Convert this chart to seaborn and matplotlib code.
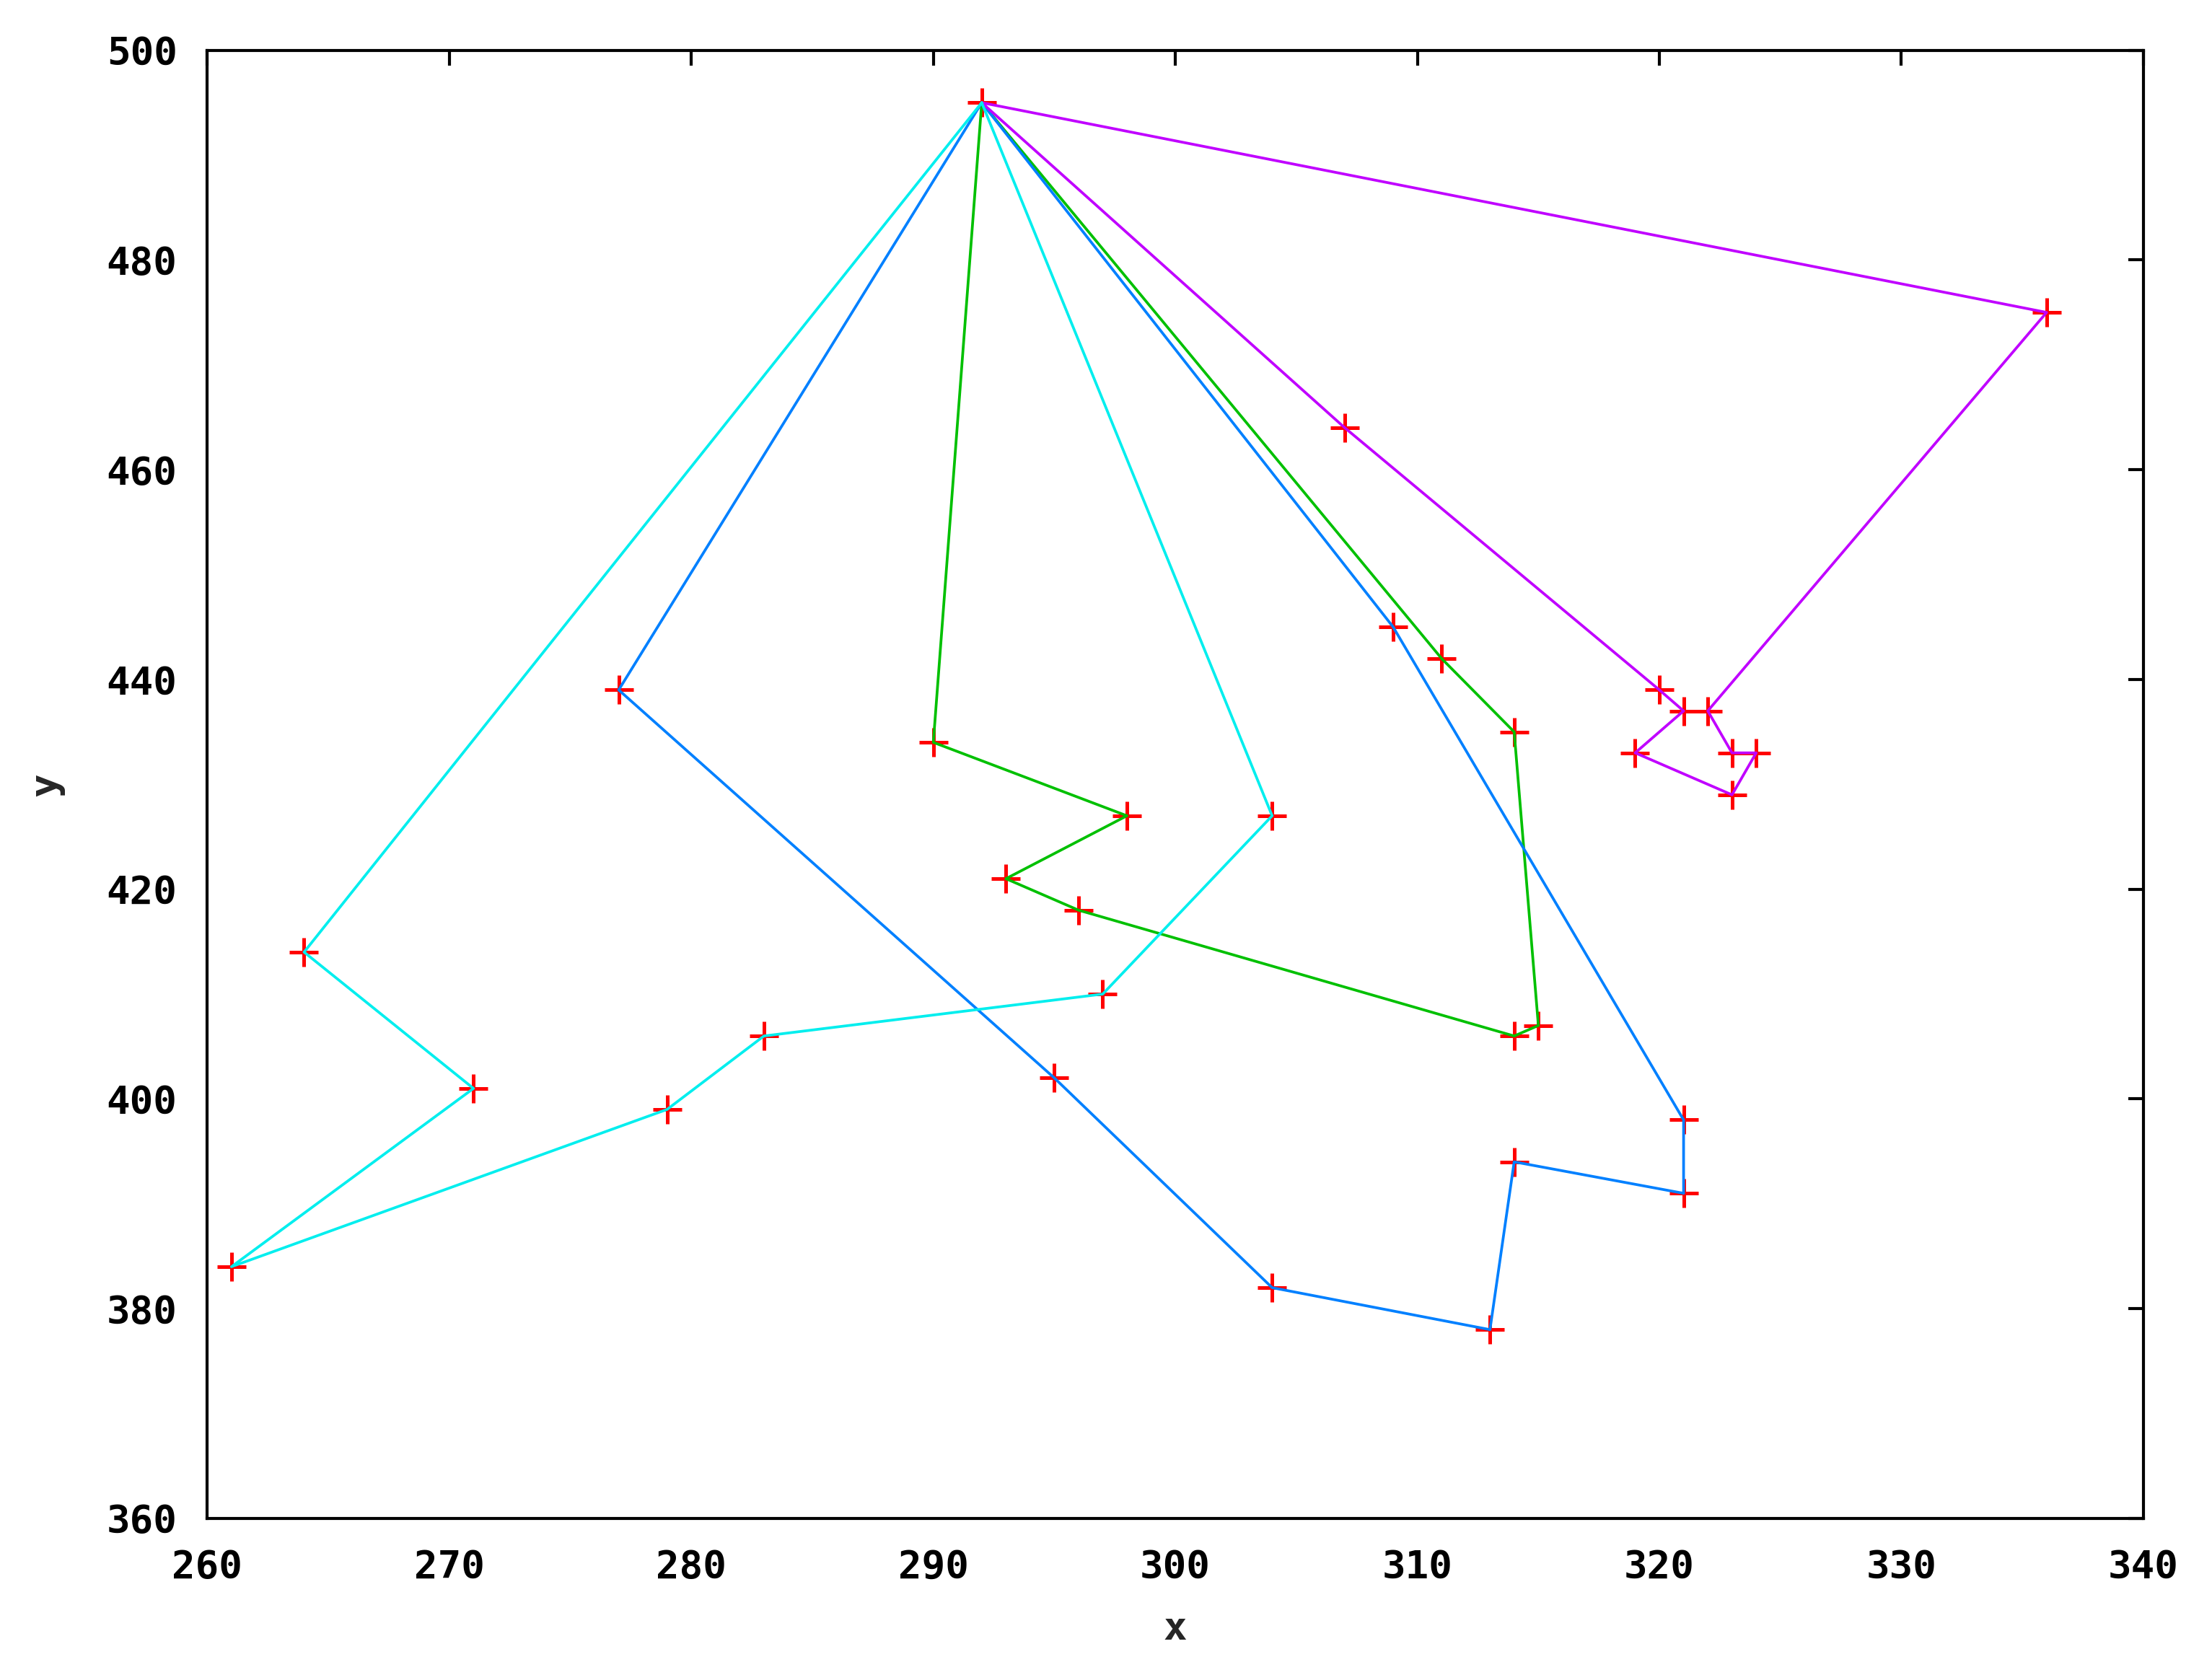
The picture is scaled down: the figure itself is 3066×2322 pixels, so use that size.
import numpy as np
import pandas as pd
import seaborn as sns
import matplotlib.pyplot as plt

# depot shared by all routes
depot = (292, 495)

# routes (customer visits in order, depot at both ends)
route_green_x = [292, 290, 298, 293, 296, 314, 315, 314, 311, 292]
route_green_y = [495, 434, 427, 421, 418, 406, 407, 435, 442, 495]

route_blue_x = [292, 277, 295, 304, 313, 314, 321, 321, 309, 292]
route_blue_y = [495, 439, 402, 382, 378, 394, 391, 398, 445, 495]

route_magenta_x = [292, 307, 320, 321, 319, 323, 324, 323, 322, 336, 292]
route_magenta_y = [495, 464, 439, 437, 433, 429, 433, 433, 437, 475, 495]

route_cyan_x = [292, 264, 271, 261, 279, 283, 297, 304, 292]
route_cyan_y = [495, 414, 401, 384, 399, 406, 410, 427, 495]

routes = {
    "r1": (route_green_x, route_green_y),
    "r2": (route_blue_x, route_blue_y),
    "r3": (route_magenta_x, route_magenta_y),
    "r4": (route_cyan_x, route_cyan_y),
}
palette = {"r1": "#00c000", "r2": "#0080ff", "r3": "#c000ff", "r4": "#00eeee"}

rows = []
for name, (xs, ys) in routes.items():
    for i, (x, y) in enumerate(zip(xs, ys)):
        rows.append({"route": name, "step": i, "x": x, "y": y})
df = pd.DataFrame(rows)
pts = df[["x", "y"]].drop_duplicates()

sns.set_style("white")
plt.rcParams['font.family'] = ['DejaVu Sans Mono', 'DejaVu Sans']
plt.rcParams['font.weight'] = 'bold'

fig = plt.figure(figsize=(10.22, 7.74), dpi=300)
ax = fig.add_axes([0.0937, 0.0935, 0.8753, 0.8765])

sns.scatterplot(data=pts, x="x", y="y", marker="+", color="#ff0000",
                s=90, linewidth=1.2, ax=ax, zorder=2)
sns.lineplot(data=df, x="x", y="y", hue="route", units="route", sort=False,
             estimator=None, palette=palette, linewidth=0.9, legend=False,
             ax=ax, zorder=3)

ax.set_xlim(260, 340)
ax.set_ylim(360, 500)
ax.set_xticks(np.arange(260, 341, 10))
ax.set_yticks(np.arange(360, 501, 20))
ax.tick_params(direction="in", length=5, width=1.0, top=True, right=True,
               labelsize=13, pad=10, colors="black")
for s in ax.spines.values():
    s.set_linewidth(1.0)
    s.set_color("black")
    s.set_visible(True)

ax.set_xlabel("x", fontsize=13, fontweight="bold", labelpad=8)
ax.set_ylabel("y", fontsize=13, fontweight="bold", labelpad=14)

fig.savefig("out.png", dpi=300, facecolor="white")
plt.close()
